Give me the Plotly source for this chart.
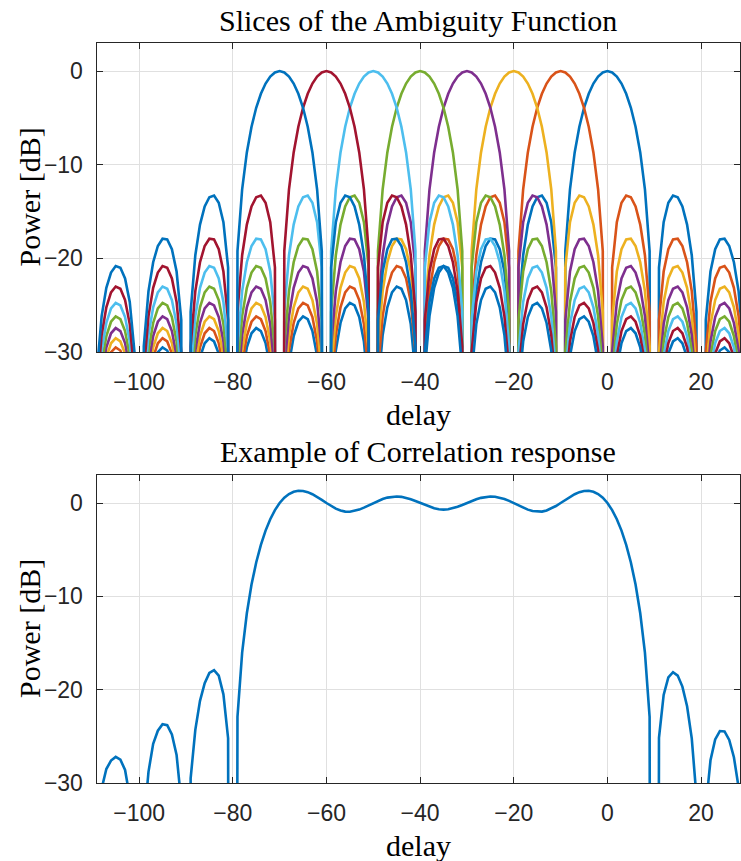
import plotly.graph_objects as go

# ---------------- data ----------------
# Top panel: each slice is the same lobe pattern shifted to its centre delay.
slice_centers = [0, -10, -20, -30, -40, -50, -60, -70]
slice_colors = ["#0072BD", "#D95319", "#EDB120", "#7E2F8E",
                "#77AC30", "#4DBEEE", "#A2142F", "#0072BD"]

# power [dB] of one slice versus |delay - centre| = 0, 1, 2, ... 110
slice_db = [
    0.00, -0.14, -0.58, -1.33, -2.42, -3.92, -5.94, -8.69, -12.62, -19.23,
    -300, -20.97, -16.14, -14.06, -13.30, -13.47, -14.46, -16.39, -19.66, -25.72,
    -300, -26.59, -21.41, -19.02, -17.98, -17.90, -18.68, -20.41, -23.50, -29.39,
    -300, -29.97, -24.66, -22.15, -21.01, -20.82, -21.51, -23.15, -26.16, -31.96,
    -300, -32.40, -27.02, -24.45, -23.25, -23.01, -23.63, -25.23, -28.18, -33.95,
    -300, -34.29, -28.88, -26.27, -25.03, -24.75, -25.34, -26.90, -29.83, -35.56,
    -300, -35.85, -30.41, -27.77, -26.50, -26.20, -26.77, -28.31, -31.21, -36.92,
    -300, -37.17, -31.71, -29.05, -27.76, -27.44, -28.00, -29.51, -32.40, -38.10,
    -300, -38.31, -32.84, -30.17, -28.87, -28.53, -29.07, -30.57, -33.45, -39.13,
    -300, -39.32, -33.84, -31.15, -29.84, -29.50, -30.02, -31.52, -34.38, -40.06,
    -300, -40.23, -34.73, -32.04, -30.72, -30.37, -30.89, -32.37, -35.23, -40.89,
    -300,
]

# Bottom panel: correlation response, delay -109 ... 28
corr_delay = list(range(-109, 29))
corr_db = [
    -36.0, -30.6, -28.5, -27.6, -27.2, -27.5, -28.6, -31.5, -37.0,        # -109..-101
    -300, -34.5, -28.8, -25.8, -24.4, -23.7, -23.8, -24.8, -27.0, -32.0,  # -100..-91
    -300, -29.5, -24.3, -21.2, -19.3, -18.2, -17.9, -18.5, -20.5, -25.2,  # -90..-81
    -300, -22.92, -16.04, -11.81, -8.74, -6.37, -4.48, -2.96, -1.74, -0.76,  # -80..-71
    0.00, 0.57, 0.96, 1.20, 1.31, 1.28, 1.16, 0.94, 0.66, 0.34,           # -70..-61
    0.00, -0.32, -0.60, -0.80, -0.92, -0.93, -0.86, -0.71, -0.50, -0.25,  # -60..-51
    0.00, 0.23, 0.43, 0.58, 0.67, 0.70, 0.66, 0.55, 0.40, 0.21,           # -50..-41
    0.00, -0.22, -0.41, -0.57, -0.67, -0.71, -0.67, -0.57, -0.41, -0.22,  # -40..-31
    0.00, 0.21, 0.40, 0.55, 0.66, 0.70, 0.67, 0.58, 0.43, 0.23,           # -30..-21
    0.00, -0.25, -0.50, -0.71, -0.86, -0.93, -0.92, -0.80, -0.60, -0.32,  # -20..-11
    0.00, 0.34, 0.66, 0.94, 1.16, 1.28, 1.31, 1.20, 0.96, 0.57,           # -10..-1
    0.00, -0.76, -1.74, -2.96, -4.48, -6.37, -8.74, -11.81, -16.04, -22.92,  # 0..9
    -300, -25.16, -20.56, -18.69, -18.13, -18.49, -19.67, -21.78, -25.22, -31.43,  # 10..19
    -300, -32.61, -27.57, -25.33, -24.43, -24.48, -25.39, -27.24, -30.46,  # 20..28
]

x_ticks = [-100, -80, -60, -40, -20, 0, 20]
y_ticks = [-30, -20, -10, 0]

top_title = "Slices of the Ambiguity Function"
bottom_title = "Example of Correlation response"
x_label = "delay"
y_label = "Power [dB]"

# ---------------- figure ----------------
W, H = 741, 861
fig = go.Figure()

offsets = list(range(-110, 111))
slice_profile = [slice_db[abs(o)] for o in offsets]
for c, col in zip(slice_centers, slice_colors):
    fig.add_trace(go.Scatter(
        x=[c + o for o in offsets], y=slice_profile, mode="lines",
        line=dict(color=col, width=2.6), xaxis="x", yaxis="y",
        hoverinfo="skip"))

fig.add_trace(go.Scatter(
    x=corr_delay, y=corr_db, mode="lines",
    line=dict(color="#0072BD", width=2.6), xaxis="x2", yaxis="y2",
    hoverinfo="skip"))

axcol = "#262626"
tickfont = dict(family="Liberation Sans, Arial, sans-serif", size=23, color=axcol)
serif = dict(family="Liberation Serif, Times New Roman, serif", size=30, color="#000000")

x_dom = [96.5 / W, 740.0 / W]
top_dom = [(H - 352.0) / H, (H - 43.0) / H]
bot_dom = [(H - 783.0) / H, (H - 475.0) / H]

common_x = dict(
    range=[-109.1, 28.3], tickvals=x_ticks, showgrid=True, gridcolor="#E0E0E0",
    gridwidth=1, zeroline=False, ticks="inside", ticklen=6, tickcolor=axcol,
    showline=True, linecolor=axcol, linewidth=1, mirror="ticks",
    tickfont=tickfont, ticklabelstandoff=9, domain=x_dom)
common_y = dict(
    range=[-30, 3], tickvals=y_ticks, showgrid=True, gridcolor="#E0E0E0",
    gridwidth=1, zeroline=False, ticks="inside", ticklen=6, tickcolor=axcol,
    showline=True, linecolor=axcol, linewidth=1, mirror="ticks",
    tickfont=tickfont, ticklabelstandoff=8)

fig.update_layout(
    width=W, height=H, template="none",
    paper_bgcolor="white", plot_bgcolor="white",
    margin=dict(l=0, r=0, t=0, b=0), showlegend=False,
    xaxis=dict(common_x, anchor="y"),
    yaxis=dict(common_y, anchor="x", domain=top_dom),
    xaxis2=dict(common_x, anchor="y2"),
    yaxis2=dict(common_y, anchor="x2", domain=bot_dom),
)

xc = (x_dom[0] + x_dom[1]) / 2
ann = [
    dict(text=top_title, x=xc, y=1 - 20 / H, yanchor="middle"),
    dict(text=bottom_title, x=xc, y=1 - 451 / H, yanchor="middle"),
    dict(text=x_label, x=xc, y=1 - 414 / H, yanchor="middle"),
    dict(text=x_label, x=xc, y=1 - 845 / H, yanchor="middle"),
    dict(text=y_label, x=29 / W, y=(top_dom[0] + top_dom[1]) / 2, yanchor="middle", textangle=-90),
    dict(text=y_label, x=29 / W, y=(bot_dom[0] + bot_dom[1]) / 2, yanchor="middle", textangle=-90),
]
for a in ann:
    fig.add_annotation(xref="paper", yref="paper", showarrow=False,
                       xanchor="center", font=serif, **a)

fig.write_html("out.html")
